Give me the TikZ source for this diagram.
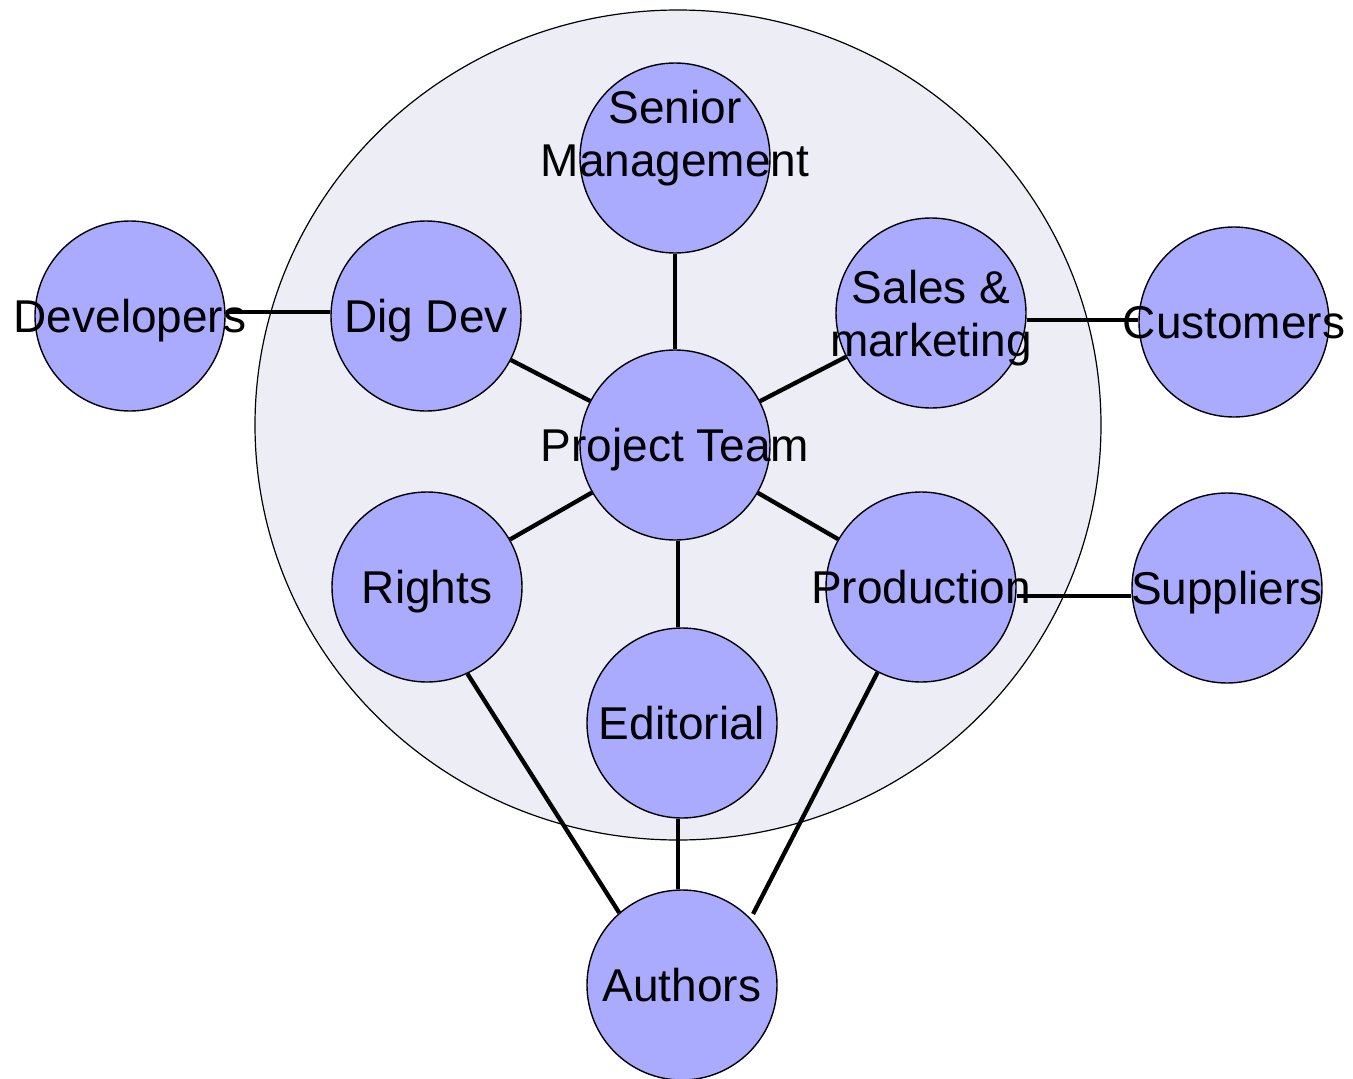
\documentclass[tikz,border=0pt]{standalone}
\usepackage{fontspec}
\setmainfont{Liberation Sans}
\usetikzlibrary{shapes.geometric,calc}
\definecolor{nodefill}{RGB}{170,170,255}
\definecolor{bgfill}{RGB}{237,237,246}
\tikzset{
  unit/.style={circle, draw=black, line width=1.4pt, fill=nodefill, minimum size=190pt, inner sep=0pt},
  txt/.style={font=\fontsize{46}{53}\selectfont, inner sep=0pt, align=center, text depth=0pt},
  link/.style={line width=4.3pt},
  outer/.style={ellipse, draw=black, line width=1.2pt, fill=bgfill, inner sep=0pt, minimum width=846pt, minimum height=830pt}
}
\begin{document}
\begin{tikzpicture}[x=1pt,y=-1pt]
\useasboundingbox (0,0) rectangle (1353,1079);
\begin{scope}
\clip (0,0) rectangle (1353,1079);
\node[outer] (house) at (678,425) {};
\node[unit, label={[txt, yshift=25pt]center:Senior\\Management}] (Senior) at (675,158) {};
\node[unit, label={[txt]center:Dig Dev}] (DigDev) at (426,316) {};
\node[unit, label={[txt]center:Developers}] (Developers) at (130,316) {};
\node[unit, label={[txt]center:Sales \&\\marketing}] (Sales) at (931,313) {};
\node[unit, label={[txt]center:Customers}] (Customers) at (1234,322) {};
\node[unit, label={[txt]center:Project Team}] (Project) at (675,445) {};
\node[unit, label={[txt]center:Rights}] (Rights) at (427,587) {};
\node[unit, label={[txt]center:Production}] (Production) at (921,587) {};
\node[unit, label={[txt]center:Suppliers}] (Suppliers) at (1227,588) {};
\node[unit, label={[txt]center:Editorial}] (Editorial) at (682,723) {};
\node[unit, label={[txt]center:Authors}] (Authors) at (682,985) {};
\end{scope}
\draw[link] (Senior) -- (Project);
\draw[link] (DigDev) -- (Project);
\draw[link] (Sales) -- (Project);
\draw[link] (Rights) -- (Project);
\draw[link] (Production) -- (Project);
\draw[link] ([xshift=3pt]Project.south) -- ([xshift=-4pt]Editorial.north);
\draw[link] ([xshift=-4pt]Editorial.south) -- ([xshift=-4pt]Authors.north);
\draw[link] (Developers.east |- 0,312) -- (DigDev.west |- 0,312);
\draw[link] (Sales.east |- 0,320) -- (Customers.west |- 0,320);
\draw[link] (Production.east |- 0,596) -- (Suppliers.west |- 0,596);
\draw[link] (Rights.-65.5) -- (Authors.131.6);
\draw[link] (Production.-117) -- ($(Authors.center)!1.05!(Authors.45)$);
\end{tikzpicture}
\end{document}
